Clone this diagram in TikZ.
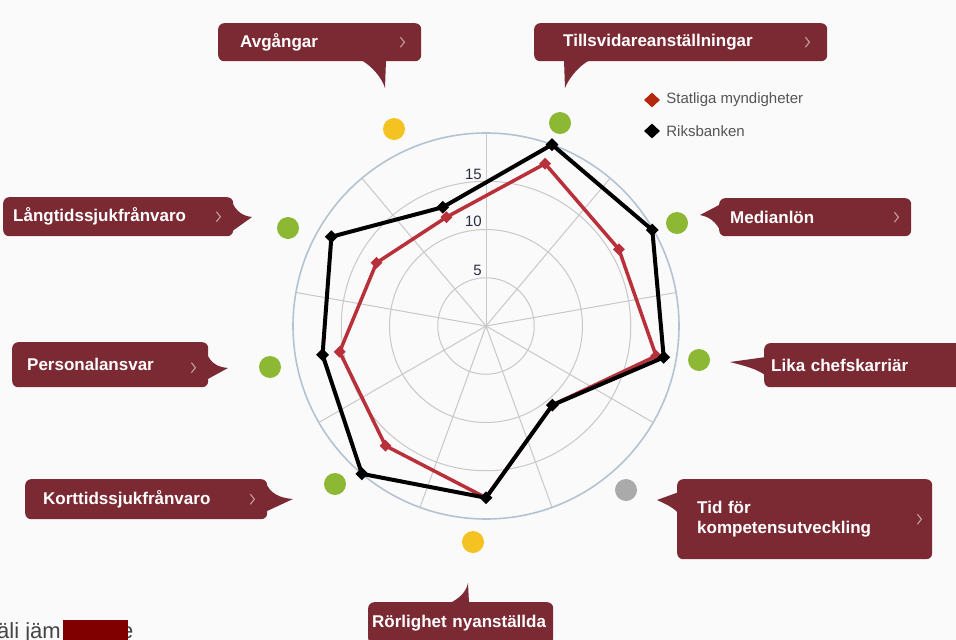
\documentclass[tikz,border=0pt]{standalone}
\usepackage{fontspec}
\setmainfont{Liberation Sans}
\usepackage{xcolor}
\usetikzlibrary{shapes.geometric}
\usetikzlibrary{positioning}

\definecolor{pagegrey}{HTML}{FAFAFA}
\definecolor{bubblered}{HTML}{7B2A33}
\definecolor{gridgrey}{HTML}{C8C8C8}
\definecolor{rimblue}{HTML}{B4C3D3}
\definecolor{statred}{HTML}{B8313A}
\definecolor{legred}{HTML}{B5280F}
\definecolor{okgreen}{HTML}{8CB833}
\definecolor{warnyellow}{HTML}{F4C322}
\definecolor{nogrey}{HTML}{AAAAAA}
\definecolor{axisblue}{HTML}{2A2D45}
\definecolor{leggrey}{HTML}{555555}
\definecolor{footgrey}{HTML}{444444}
\definecolor{redact}{HTML}{800000}

\tikzset{
  bubble/.style={fill=bubblered, rounded corners=6pt, text=white,
    font=\bfseries\fontsize{17}{20}\selectfont, align=left,
    anchor=north west, inner ysep=0pt},
  bubbletail/.style={fill=bubblered},
  chevron/.style={draw=white, draw opacity=0.55, line width=1.1pt},
  lamp/.style={circle, minimum size=22pt, inner sep=0pt},
  ring/.style={draw=gridgrey, line width=1pt},
  rim/.style={draw=rimblue, line width=1.6pt},
  spoke/.style={draw=gridgrey, line width=1pt},
  statline/.style={draw=statred, line width=3.5pt, line join=round},
  riksline/.style={draw=black, line width=4pt, line join=round},
  statmark/.style={diamond, fill=statred, minimum size=12pt, inner sep=0pt},
  riksmark/.style={diamond, fill=black, minimum size=13pt, inner sep=0pt},
  axislabel/.style={anchor=east, text=axisblue, font=\fontsize{15}{18}\selectfont, inner sep=0pt},
  legtext/.style={text=leggrey, font=\fontsize{15}{18}\selectfont, inner sep=0pt},
  footer/.style={anchor=base west, inner sep=0pt, text=footgrey, font=\fontsize{22}{26}\selectfont}
}

\begin{document}
\begin{tikzpicture}[x=1pt, y=-1pt]
\useasboundingbox (0,0) rectangle (956,640);
\clip (0,0) rectangle (956,640);
\fill[pagegrey] (0,0) rectangle (956,640);

% Netz des Polardiagramms
\begin{scope}[shift={(486,326)}]
\foreach \r in {5,10,15} \draw[ring] (0,0) circle[radius=\r*9.65];
\draw[rim] (0,0) circle[radius=193];
\foreach \a in {0,40,...,320} \draw[spoke] (0,0) -- (\a-90:193);
% Werte der beiden Reihen
\foreach \v [count=\i] in {17.9,15.9,17.9,10.7,17.8,16.2,15.4,13.1,12.0}
  \coordinate (s\i) at ({40*\i-110}:{\v*9.65});
\foreach \v [count=\i] in {20,19.9,18.7,10.7,17.8,20,17.2,18.5,13.1}
  \coordinate (r\i) at ({40*\i-110}:{\v*9.65});
\end{scope}

\node[axislabel] (lab15) at (482,174) {15};
\node[axislabel] (lab10) at (482,221) {10};
\node[axislabel] (lab5) at (482,270) {5};

\draw[statline] (s1) -- (s2) -- (s3) -- (s4) -- (s5) -- (s6) -- (s7) -- (s8) -- (s9) -- cycle;
\foreach \i in {1,...,9} \node[statmark] (sm\i) at (s\i) {};
\draw[riksline] (r1) -- (r2) -- (r3) -- (r4) -- (r5) -- (r6) -- (r7) -- (r8) -- (r9) -- cycle;
\foreach \i in {1,...,9} \node[riksmark] (rm\i) at (r\i) {};

% Ampelpunkte:
\node[lamp, fill=warnyellow] (avgdot) at (394,129) {};
\node[lamp, fill=okgreen] (tilldot) at (560,123) {};
\node[lamp, fill=okgreen] (meddot) at (677,223) {};
\node[lamp, fill=okgreen] (likadot) at (699,360) {};
\node[lamp, fill=nogrey] (tiddot) at (626,490) {};
\node[lamp, fill=warnyellow] (rordot) at (473,542) {};
\node[lamp, fill=okgreen] (kortdot) at (335,484) {};
\node[lamp, fill=okgreen] (perdot) at (270,367) {};
\node[lamp, fill=okgreen] (langdot) at (288,228) {};

% Legende
\node[diamond, fill=legred, minimum width=16pt, minimum height=15pt, inner sep=0pt] (legstat) at (652,100) {};
\node[legtext, right=6pt of legstat] (legstattext) {Statliga myndigheter};
\node[diamond, fill=black, minimum width=16pt, minimum height=15pt, inner sep=0pt] (legriks) at (652,131) {};
\node[legtext, right=6pt of legriks] (legrikstext) {Riksbanken};

% Sprechblasen:
\node[bubble, minimum width=203pt, minimum height=38pt, text width=159pt, inner xsep=22pt] (avg) at (218,23) {Avgångar};
\coordinate (avgtip) at (385,88);
\fill[bubbletail] (361,60) .. controls (372,66) and (382,78) .. (avgtip) -- (386,60) -- cycle;
\draw[chevron] ([xshift=-21pt,yshift=5pt]avg.east) -- ++(4,5) -- ++(-4,5);

\node[bubble, minimum width=293pt, minimum height=38pt, text width=235pt, inner xsep=29pt] (till) at (534,23) {Tillsvidareanställningar};
\coordinate (tilltip) at (565,88);
\fill[bubbletail] (564,60) -- (tilltip) .. controls (568,80) and (578,66) .. (590,60) -- cycle;
\draw[chevron] ([xshift=-22pt,yshift=5pt]till.east) -- ++(4,5) -- ++(-4,5);

\node[bubble, minimum width=192pt, minimum height=38pt, text width=170pt, inner xsep=11pt] (med) at (719,198) {Medianlön};
\coordinate (medtip) at (700,215);
\fill[bubbletail] (721,204) -- (medtip) .. controls (710,217) and (716,222) .. (721,232) -- cycle;
\draw[chevron] ([xshift=-17pt,yshift=5pt]med.east) -- ++(4,5) -- ++(-4,5);

\node[bubble, minimum width=215pt, minimum height=44pt, text width=201pt, inner xsep=7pt] (lika) at (764,343) {Lika chefskarriär};
\coordinate (likatip) at (730,362);
\fill[bubbletail] (766,357) -- (likatip) .. controls (745,366) and (758,369) .. (766,376) -- cycle;

\node[bubble, minimum width=255pt, minimum height=80pt, text width=215pt, inner xsep=20pt] (tid) at (677,479) {Tid för\\kompetensutveckling};
\coordinate (tidtip) at (657,500);
\fill[bubbletail] (679,492) -- (tidtip) .. controls (668,505) and (674,508) .. (679,514) -- cycle;
\draw[chevron] ([xshift=-15pt,yshift=5pt]tid.east) -- ++(4,5) -- ++(-4,5);

\node[bubble, minimum width=185pt, minimum height=42pt, text width=177pt, inner xsep=4pt] (ror) at (368,602) {Rörlighet nyanställda};
\coordinate (rortip) at (468,583);
\fill[bubbletail] (450,603) .. controls (460,598) and (466,592) .. (rortip) -- (469,603) -- cycle;

\node[bubble, minimum width=242pt, minimum height=40pt, text width=206pt, inner xsep=18pt] (kort) at (25,479) {Korttidssjukfrånvaro};
\coordinate (korttip) at (293,499);
\fill[bubbletail] (265,481) .. controls (270,494) and (280,498) .. (korttip) -- (265,512) -- cycle;
\draw[chevron] ([xshift=-17pt,yshift=5pt]kort.east) -- ++(4,5) -- ++(-4,5);

\node[bubble, minimum width=196pt, minimum height=45pt, text width=166pt, inner xsep=15pt] (per) at (12,342) {Personalansvar};
\coordinate (pertip) at (228,368);
\fill[bubbletail] (206,352) .. controls (211,364) and (218,367) .. (pertip) -- (206,380) -- cycle;
\draw[chevron] ([xshift=-17pt,yshift=2pt]per.east) -- ++(4,5) -- ++(-4,5);

\node[bubble, minimum width=230pt, minimum height=39pt, text width=210pt, inner xsep=10pt] (lang) at (3,197) {Långtidssjukfrånvaro};
\coordinate (langtip) at (252,217);
\fill[bubbletail] (231,200) .. controls (236,212) and (243,216) .. (langtip) -- (231,232) -- cycle;
\draw[chevron] ([xshift=-17pt,yshift=5pt]lang.east) -- ++(4,5) -- ++(-4,5);

% abgeschnittener Text unten links
\node[footer] (foot) at (-3,638) {äli jäm};
\node[footer] (foote) at (121,638) {e};
\node[fill=redact, minimum width=65pt, minimum height=20pt, inner sep=0pt, anchor=north west] (mask) at (63,620) {};
\end{tikzpicture}
\end{document}
